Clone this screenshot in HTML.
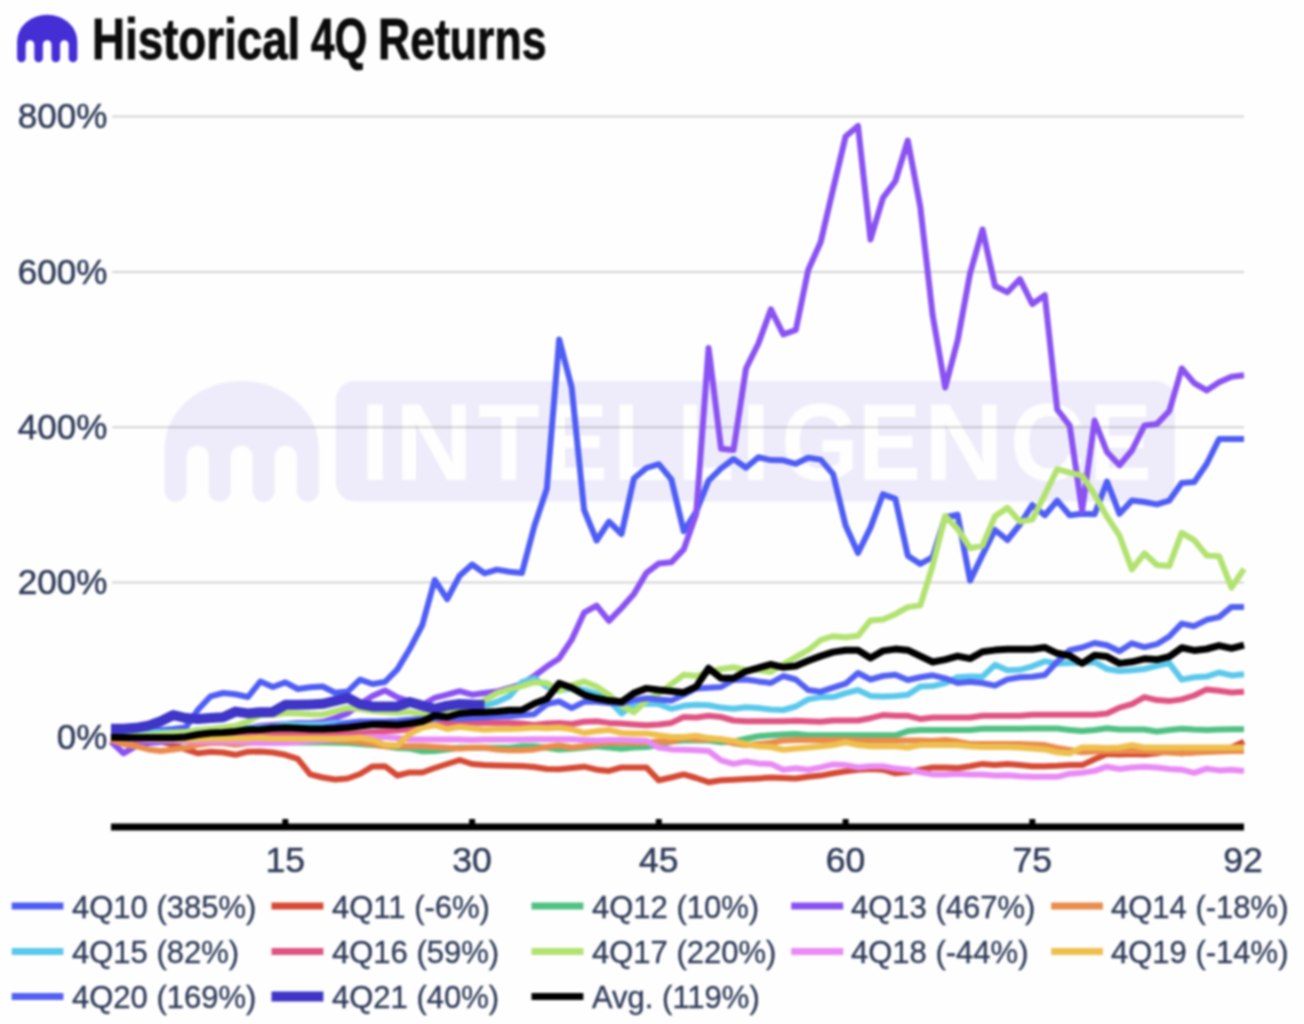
<!DOCTYPE html>
<html><head><meta charset="utf-8"><title>Historical 4Q Returns</title>
<style>
html,body{margin:0;padding:0;background:#fefefe;}
body{width:1304px;height:1024px;overflow:hidden;position:relative;font-family:"Liberation Sans",sans-serif;}
#w{position:absolute;left:0;top:0;width:1304px;height:1024px;filter:blur(1px);}
svg{position:absolute;left:0;top:0;}
.t{position:absolute;top:5px;font-weight:bold;font-size:58px;color:#0b0b0b;white-space:nowrap;transform-origin:0 0;-webkit-text-stroke:0.9px #0b0b0b;}
</style></head><body>

<div id="w">
<svg width="1304" height="1024" viewBox="0 0 1304 1024">
<path d="M17.10,57.90 L17.10,41.34 A30.10,26.54 0 0 1 77.30,41.34 L77.30,57.90 A4.30,4.30 0 0 1 68.70,57.90 L68.70,44.51 A4.30,4.30 0 0 0 60.10,44.51 L60.10,57.90 A4.30,4.30 0 0 1 51.50,57.90 L51.50,44.51 A4.30,4.30 0 0 0 42.90,44.51 L42.90,57.90 A4.30,4.30 0 0 1 34.30,57.90 L34.30,44.51 A4.30,4.30 0 0 0 25.70,44.51 L25.70,57.90 A4.30,4.30 0 0 1 17.10,57.90 Z" fill="#452ed6"/>
<path d="M164.60,490.79 L164.60,448.65 A77.10,67.65 0 0 1 318.80,448.65 L318.80,490.79 A11.01,11.01 0 0 1 296.77,490.79 L296.77,456.76 A11.01,11.01 0 0 0 274.74,456.76 L274.74,490.79 A11.01,11.01 0 0 1 252.71,490.79 L252.71,456.76 A11.01,11.01 0 0 0 230.69,456.76 L230.69,490.79 A11.01,11.01 0 0 1 208.66,490.79 L208.66,456.76 A11.01,11.01 0 0 0 186.63,456.76 L186.63,490.79 A11.01,11.01 0 0 1 164.60,490.79 Z" fill="#eeecfa"/>
<rect x="335.8" y="381" width="839" height="120.5" rx="19" ry="19" fill="#eeecfa"/>
<g font-family="Liberation Sans" font-weight="bold" font-size="110" fill="#fefefe">
<text transform="translate(360.60,480.4) scale(0.964,1)">I</text>
<text transform="translate(394.89,480.4) scale(0.979,1)">N</text>
<text transform="translate(478.05,480.4) scale(0.918,1)">T</text>
<text transform="translate(545.32,480.4) scale(0.851,1)">E</text>
<text transform="translate(613.41,480.4) scale(0.839,1)">L</text>
<text transform="translate(677.61,480.4) scale(0.839,1)">L</text>
<text transform="translate(741.00,480.4) scale(0.964,1)">I</text>
<text transform="translate(780.92,480.4) scale(0.910,1)">G</text>
<text transform="translate(858.32,480.4) scale(0.851,1)">E</text>
<text transform="translate(923.66,480.4) scale(1.010,1)">N</text>
<text transform="translate(1010.12,480.4) scale(0.936,1)">C</text>
<text transform="translate(1089.45,480.4) scale(0.846,1)">E</text>
</g>
<line x1="112" y1="116.6" x2="1244" y2="116.6" stroke="#000" stroke-opacity="0.17" stroke-width="2"/>
<line x1="112" y1="271.9" x2="1244" y2="271.9" stroke="#000" stroke-opacity="0.17" stroke-width="2"/>
<line x1="112" y1="427.2" x2="1244" y2="427.2" stroke="#000" stroke-opacity="0.17" stroke-width="2"/>
<line x1="112" y1="582.5" x2="1244" y2="582.5" stroke="#000" stroke-opacity="0.17" stroke-width="2"/>
<g fill="none" stroke-linejoin="round" stroke-linecap="butt">
<polyline points="111.0,737.0 123.5,735.0 135.9,733.0 148.4,731.0 160.8,730.0 173.3,729.0 185.7,727.6 198.2,709.5 210.6,696.3 223.1,693.0 235.5,694.3 248.0,697.0 260.4,681.5 272.9,687.0 285.3,682.4 297.8,689.0 310.2,687.2 322.7,686.5 335.1,692.7 347.6,691.6 360.0,679.7 372.5,684.0 384.9,682.0 397.4,669.4 409.8,648.8 422.3,625.0 434.7,580.0 447.2,599.2 459.6,575.7 472.1,564.5 484.5,573.3 497.0,569.6 509.4,571.7 521.9,573.0 534.3,526.3 546.8,488.8 559.2,339.6 571.7,387.6 584.1,510.0 596.6,540.5 609.0,521.6 621.5,534.0 633.9,478.5 646.4,468.0 658.8,464.2 671.3,479.3 683.7,531.3 696.2,511.6 708.6,480.6 721.1,468.4 733.5,459.0 746.0,467.8 758.4,457.3 770.9,460.1 783.3,460.3 795.8,463.8 808.2,457.8 820.7,459.6 833.1,474.1 845.6,525.5 858.0,553.0 870.5,527.6 882.9,494.2 895.4,498.9 907.8,555.7 920.3,564.0 932.7,557.0 945.2,517.2 957.6,514.8 970.1,580.6 982.5,554.9 995.0,530.0 1007.4,540.0 1019.9,524.5 1032.3,505.0 1044.8,515.2 1057.2,500.6 1069.7,515.2 1082.1,513.8 1094.6,514.3 1107.0,481.5 1119.5,513.8 1131.9,500.6 1144.4,502.0 1156.8,504.4 1169.3,500.6 1181.7,483.0 1194.2,482.1 1206.6,464.0 1219.1,439.0 1231.5,439.0 1244.0,439.0" stroke="#4e5df5" stroke-width="6"/>
<polyline points="111.0,738.0 123.5,739.0 135.9,740.0 148.4,741.0 160.8,741.6 173.3,744.7 185.7,749.4 198.2,753.3 210.6,751.7 223.1,752.5 235.5,754.8 248.0,751.7 260.4,751.5 272.9,752.5 285.3,754.8 297.8,758.8 310.2,774.4 322.7,777.5 335.1,779.5 347.6,778.5 360.0,774.0 372.5,766.4 384.9,766.2 397.4,775.5 409.8,772.4 422.3,772.5 434.7,768.0 447.2,764.0 459.6,760.0 472.1,764.0 484.5,765.0 497.0,765.5 509.4,765.8 521.9,766.0 534.3,767.0 546.8,769.0 559.2,769.3 571.7,768.1 584.1,766.7 596.6,769.7 609.0,770.9 621.5,767.4 633.9,767.4 646.4,767.4 658.8,780.3 671.3,777.5 683.7,774.4 696.2,778.0 708.6,782.2 721.1,780.3 733.5,779.8 746.0,779.1 758.4,778.4 770.9,777.5 783.3,778.0 795.8,778.5 808.2,776.8 820.7,775.6 833.1,773.3 845.6,771.4 858.0,769.7 870.5,769.0 882.9,769.7 895.4,773.3 907.8,772.1 920.3,769.7 932.7,767.4 945.2,767.4 957.6,768.0 970.1,766.2 982.5,763.9 995.0,765.1 1007.4,763.9 1019.9,765.1 1032.3,766.2 1044.8,766.2 1057.2,765.8 1069.7,765.1 1082.1,765.1 1094.6,759.2 1107.0,754.0 1119.5,754.5 1131.9,754.0 1144.4,754.5 1156.8,753.3 1169.3,751.0 1181.7,753.3 1194.2,752.2 1206.6,751.0 1219.1,749.8 1231.5,747.5 1244.0,741.6" stroke="#d64a35" stroke-width="6"/>
<polyline points="111.0,737.0 123.5,738.0 135.9,739.0 148.4,740.0 160.8,740.0 173.3,741.0 185.7,741.2 198.2,741.4 210.6,741.6 223.1,741.8 235.5,742.0 248.0,742.1 260.4,742.1 272.9,742.2 285.3,742.3 297.8,742.4 310.2,742.4 322.7,742.5 335.1,742.8 347.6,743.0 360.0,744.0 372.5,745.0 384.9,746.0 397.4,748.0 409.8,748.5 422.3,751.2 434.7,751.0 447.2,749.4 459.6,747.8 472.1,747.8 484.5,747.8 497.0,747.8 509.4,747.8 521.9,746.2 534.3,746.2 546.8,747.8 559.2,749.4 571.7,748.7 584.1,747.5 596.6,746.3 609.0,747.5 621.5,748.7 633.9,747.5 646.4,747.0 658.8,745.1 671.3,741.6 683.7,740.5 696.2,740.5 708.6,740.5 721.1,742.3 733.5,741.6 746.0,738.6 758.4,736.2 770.9,735.3 783.3,734.6 795.8,734.0 808.2,735.3 820.7,735.3 833.1,735.3 845.6,735.3 858.0,735.3 870.5,735.3 882.9,735.3 895.4,735.3 907.8,731.1 920.3,729.9 932.7,729.9 945.2,729.9 957.6,729.9 970.1,729.9 982.5,728.7 995.0,728.7 1007.4,728.7 1019.9,728.7 1032.3,728.5 1044.8,728.5 1057.2,728.5 1069.7,729.9 1082.1,731.1 1094.6,730.0 1107.0,728.3 1119.5,729.5 1131.9,729.5 1144.4,729.5 1156.8,731.5 1169.3,730.0 1181.7,728.7 1194.2,729.5 1206.6,729.9 1219.1,729.5 1231.5,729.2 1244.0,729.2" stroke="#50c083" stroke-width="6"/>
<polyline points="111.0,741.6 123.5,753.3 135.9,746.2 148.4,743.0 160.8,742.0 173.3,741.0 185.7,740.0 198.2,738.0 210.6,736.0 223.1,733.0 235.5,730.0 248.0,728.0 260.4,726.0 272.9,725.0 285.3,724.0 297.8,723.0 310.2,723.0 322.7,722.0 335.1,718.1 347.6,713.4 360.0,704.3 372.5,696.0 384.9,690.4 397.4,697.3 409.8,701.7 422.3,705.3 434.7,697.8 447.2,694.7 459.6,691.2 472.1,694.7 484.5,693.1 497.0,691.6 509.4,688.0 521.9,684.0 534.3,676.0 546.8,666.6 559.2,658.4 571.7,639.7 584.1,612.7 596.6,605.7 609.0,620.9 621.5,608.0 633.9,594.0 646.4,572.9 658.8,563.5 671.3,562.3 683.7,549.4 696.2,514.0 708.6,348.0 721.1,448.8 733.5,450.0 746.0,368.5 758.4,343.5 770.9,309.4 783.3,334.4 795.8,330.0 808.2,270.0 820.7,242.0 833.1,189.0 845.6,136.5 858.0,126.0 870.5,239.5 882.9,198.0 895.4,181.0 907.8,140.5 920.3,207.0 932.7,315.6 945.2,387.5 957.6,340.6 970.1,273.3 982.5,229.5 995.0,286.0 1007.4,292.3 1019.9,279.1 1032.3,304.0 1044.8,295.2 1057.2,409.5 1069.7,425.7 1082.1,510.8 1094.6,420.5 1107.0,452.0 1119.5,465.2 1131.9,450.5 1144.4,425.6 1156.8,424.1 1169.3,411.0 1181.7,368.5 1194.2,383.1 1206.6,390.4 1219.1,382.2 1231.5,376.7 1244.0,375.2" stroke="#8a52f2" stroke-width="6"/>
<polyline points="111.0,740.0 123.5,744.0 135.9,746.2 148.4,749.4 160.8,751.0 173.3,749.4 185.7,747.8 198.2,744.7 210.6,743.1 223.1,743.1 235.5,744.7 248.0,743.0 260.4,742.0 272.9,742.0 285.3,741.6 297.8,741.0 310.2,740.5 322.7,740.5 335.1,740.5 347.6,741.0 360.0,742.0 372.5,744.0 384.9,746.3 397.4,746.3 409.8,746.2 422.3,746.2 434.7,747.0 447.2,747.8 459.6,748.6 472.1,747.8 484.5,747.8 497.0,749.4 509.4,750.2 521.9,750.2 534.3,749.4 546.8,747.0 559.2,745.5 571.7,747.5 584.1,746.3 596.6,744.0 609.0,742.8 621.5,742.8 633.9,742.8 646.4,742.8 658.8,741.6 671.3,741.6 683.7,738.1 696.2,739.3 708.6,739.3 721.1,739.3 733.5,743.3 746.0,745.1 758.4,744.0 770.9,742.8 783.3,740.5 795.8,740.0 808.2,740.0 820.7,740.0 833.1,740.0 845.6,740.0 858.0,740.5 870.5,740.5 882.9,740.5 895.4,740.5 907.8,740.5 920.3,740.5 932.7,741.0 945.2,740.0 957.6,741.6 970.1,744.0 982.5,744.0 995.0,744.0 1007.4,744.0 1019.9,744.0 1032.3,744.5 1044.8,745.1 1057.2,748.0 1069.7,750.0 1082.1,752.2 1094.6,751.5 1107.0,751.0 1119.5,751.0 1131.9,751.0 1144.4,751.0 1156.8,752.0 1169.3,752.5 1181.7,753.3 1194.2,752.5 1206.6,752.0 1219.1,751.5 1231.5,751.0 1244.0,751.0" stroke="#ea8c4c" stroke-width="6"/>
<polyline points="111.0,737.0 123.5,736.0 135.9,734.0 148.4,732.2 160.8,732.2 173.3,732.2 185.7,732.2 198.2,730.0 210.6,729.5 223.1,729.0 235.5,728.5 248.0,728.0 260.4,727.5 272.9,727.0 285.3,724.4 297.8,724.4 310.2,724.4 322.7,724.4 335.1,723.0 347.6,722.8 360.0,722.6 372.5,722.5 384.9,722.3 397.4,722.1 409.8,721.9 422.3,721.7 434.7,721.5 447.2,721.4 459.6,721.2 472.1,721.0 484.5,705.6 497.0,702.0 509.4,696.2 521.9,682.2 534.3,678.3 546.8,686.9 559.2,690.6 571.7,688.4 584.1,690.0 596.6,693.6 609.0,700.6 621.5,713.5 633.9,704.1 646.4,703.4 658.8,704.1 671.3,708.8 683.7,705.8 696.2,704.8 708.6,705.3 721.1,707.6 733.5,708.8 746.0,707.2 758.4,708.1 770.9,709.5 783.3,710.0 795.8,706.5 808.2,699.4 820.7,697.1 833.1,697.1 845.6,693.1 858.0,690.0 870.5,695.9 882.9,696.4 895.4,695.9 907.8,694.8 920.3,686.6 932.7,686.1 945.2,683.0 957.6,677.2 970.1,676.6 982.5,676.7 995.0,664.8 1007.4,670.3 1019.9,669.8 1032.3,666.3 1044.8,661.4 1057.2,663.4 1069.7,663.0 1082.1,663.0 1094.6,662.2 1107.0,669.0 1119.5,671.0 1131.9,670.3 1144.4,669.0 1156.8,665.8 1169.3,663.1 1181.7,679.6 1194.2,677.2 1206.6,676.6 1219.1,672.5 1231.5,675.4 1244.0,674.3" stroke="#5ac8ec" stroke-width="6"/>
<polyline points="111.0,737.0 123.5,737.0 135.9,737.0 148.4,736.0 160.8,736.0 173.3,735.0 185.7,735.0 198.2,734.0 210.6,734.0 223.1,734.0 235.5,733.0 248.0,733.0 260.4,733.0 272.9,733.0 285.3,733.0 297.8,733.0 310.2,733.0 322.7,733.0 335.1,733.0 347.6,733.5 360.0,733.0 372.5,732.0 384.9,731.0 397.4,730.6 409.8,729.0 422.3,726.0 434.7,724.4 447.2,723.5 459.6,722.8 472.1,722.8 484.5,722.8 497.0,722.8 509.4,722.8 521.9,723.6 534.3,725.0 546.8,723.6 559.2,723.0 571.7,724.0 584.1,721.7 596.6,721.2 609.0,722.9 621.5,723.6 633.9,724.5 646.4,725.2 658.8,724.5 671.3,722.9 683.7,717.0 696.2,717.5 708.6,715.8 721.1,717.0 733.5,720.5 746.0,721.2 758.4,721.2 770.9,721.2 783.3,721.2 795.8,720.8 808.2,721.2 820.7,721.7 833.1,720.5 845.6,720.5 858.0,720.5 870.5,718.2 882.9,715.1 895.4,715.8 907.8,715.8 920.3,718.9 932.7,717.5 945.2,717.5 957.6,717.5 970.1,717.5 982.5,715.8 995.0,715.8 1007.4,715.8 1019.9,715.8 1032.3,714.7 1044.8,714.7 1057.2,714.7 1069.7,714.7 1082.1,714.7 1094.6,714.7 1107.0,713.5 1119.5,707.6 1131.9,704.1 1144.4,697.1 1156.8,700.1 1169.3,701.1 1181.7,699.4 1194.2,695.5 1206.6,689.4 1219.1,690.8 1231.5,692.4 1244.0,691.7" stroke="#e05483" stroke-width="6"/>
<polyline points="111.0,737.0 123.5,737.0 135.9,736.0 148.4,735.0 160.8,734.0 173.3,733.0 185.7,732.0 198.2,730.6 210.6,729.0 223.1,727.5 235.5,726.0 248.0,721.2 260.4,715.0 272.9,715.0 285.3,713.1 297.8,713.5 310.2,714.2 322.7,714.5 335.1,711.1 347.6,708.0 360.0,709.0 372.5,711.0 384.9,712.0 397.4,712.7 409.8,711.9 422.3,714.2 434.7,712.0 447.2,710.0 459.6,708.0 472.1,705.0 484.5,700.2 497.0,693.1 509.4,689.2 521.9,686.1 534.3,682.2 546.8,683.0 559.2,690.8 571.7,685.4 584.1,681.4 596.6,686.6 609.0,694.8 621.5,705.3 633.9,712.3 646.4,700.6 658.8,693.6 671.3,684.2 683.7,674.8 696.2,676.0 708.6,672.0 721.1,669.0 733.5,667.3 746.0,670.1 758.4,670.1 770.9,672.0 783.3,664.3 795.8,657.0 808.2,650.2 820.7,640.0 833.1,636.2 845.6,637.3 858.0,635.8 870.5,620.4 882.9,619.4 895.4,614.2 907.8,607.1 920.3,605.4 932.7,565.5 945.2,516.0 957.6,528.9 970.1,548.2 982.5,545.6 995.0,516.3 1007.4,507.8 1019.9,521.5 1032.3,519.6 1044.8,494.7 1057.2,469.2 1069.7,472.7 1082.1,475.7 1094.6,494.7 1107.0,516.7 1119.5,535.7 1131.9,569.4 1144.4,553.3 1156.8,565.0 1169.3,565.9 1181.7,532.8 1194.2,540.1 1206.6,555.4 1219.1,556.2 1231.5,587.6 1244.0,568.8" stroke="#b2e270" stroke-width="6"/>
<polyline points="111.0,737.0 123.5,738.0 135.9,739.0 148.4,740.0 160.8,740.0 173.3,740.0 185.7,741.0 198.2,741.5 210.6,741.6 223.1,741.6 235.5,742.0 248.0,742.5 260.4,743.0 272.9,743.0 285.3,743.0 297.8,742.0 310.2,741.0 322.7,740.0 335.1,739.0 347.6,738.0 360.0,737.5 372.5,737.0 384.9,737.0 397.4,738.0 409.8,739.5 422.3,739.5 434.7,739.5 447.2,739.5 459.6,739.5 472.1,740.0 484.5,739.5 497.0,739.5 509.4,739.5 521.9,739.5 534.3,739.2 546.8,739.2 559.2,739.3 571.7,739.3 584.1,740.0 596.6,740.5 609.0,740.0 621.5,740.0 633.9,740.5 646.4,740.9 658.8,747.5 671.3,749.4 683.7,749.8 696.2,750.3 708.6,751.0 721.1,760.4 733.5,763.9 746.0,761.5 758.4,763.4 770.9,763.9 783.3,769.7 795.8,768.3 808.2,769.7 820.7,767.4 833.1,764.4 845.6,765.1 858.0,767.4 870.5,766.2 882.9,766.2 895.4,768.6 907.8,769.7 920.3,772.1 932.7,774.4 945.2,774.4 957.6,773.7 970.1,774.4 982.5,774.4 995.0,775.6 1007.4,775.2 1019.9,776.2 1032.3,776.8 1044.8,776.8 1057.2,776.8 1069.7,773.7 1082.1,772.8 1094.6,770.9 1107.0,766.7 1119.5,769.0 1131.9,767.4 1144.4,766.7 1156.8,767.4 1169.3,769.0 1181.7,769.7 1194.2,772.8 1206.6,768.6 1219.1,770.4 1231.5,769.7 1244.0,770.9" stroke="#e98af5" stroke-width="6"/>
<polyline points="111.0,737.0 123.5,737.5 135.9,738.0 148.4,738.5 160.8,739.0 173.3,739.0 185.7,739.0 198.2,739.0 210.6,738.5 223.1,738.4 235.5,738.4 248.0,738.4 260.4,737.7 272.9,738.4 285.3,738.4 297.8,738.4 310.2,738.4 322.7,738.4 335.1,738.4 347.6,738.4 360.0,737.7 372.5,740.0 384.9,744.7 397.4,745.5 409.8,733.8 422.3,727.5 434.7,725.2 447.2,729.0 459.6,726.7 472.1,728.3 484.5,729.8 497.0,729.0 509.4,729.0 521.9,728.5 534.3,727.5 546.8,728.3 559.2,727.5 571.7,729.2 584.1,733.0 596.6,731.1 609.0,729.9 621.5,733.0 633.9,733.4 646.4,733.4 658.8,735.3 671.3,736.9 683.7,736.9 696.2,735.8 708.6,738.1 721.1,739.3 733.5,740.9 746.0,744.0 758.4,746.3 770.9,747.0 783.3,749.8 795.8,748.5 808.2,747.5 820.7,746.3 833.1,745.1 845.6,742.3 858.0,745.1 870.5,746.3 882.9,746.3 895.4,746.3 907.8,747.5 920.3,745.1 932.7,745.1 945.2,745.1 957.6,745.1 970.1,746.3 982.5,747.0 995.0,747.0 1007.4,747.0 1019.9,747.5 1032.3,748.5 1044.8,749.4 1057.2,752.2 1069.7,753.3 1082.1,747.5 1094.6,747.5 1107.0,748.0 1119.5,747.5 1131.9,745.1 1144.4,747.5 1156.8,747.5 1169.3,747.5 1181.7,747.5 1194.2,747.5 1206.6,747.5 1219.1,747.5 1231.5,747.5 1244.0,747.5" stroke="#eebf4c" stroke-width="6"/>
<polyline points="111.0,737.5 123.5,737.5 135.9,737.5 148.4,737.5 160.8,737.5 173.3,737.5 185.7,736.5 198.2,734.5 210.6,733.0 223.1,732.5 235.5,731.4 248.0,730.0 260.4,729.5 272.9,728.5 285.3,728.0 297.8,728.3 310.2,728.5 322.7,728.0 335.1,726.0 347.6,723.0 360.0,721.6 372.5,721.6 384.9,721.6 397.4,721.0 409.8,719.7 422.3,718.9 434.7,718.1 447.2,718.0 459.6,718.5 472.1,718.0 484.5,717.3 497.0,716.6 509.4,716.2 521.9,715.0 534.3,714.2 546.8,704.1 559.2,701.5 571.7,708.1 584.1,701.8 596.6,701.8 609.0,703.0 621.5,703.4 633.9,700.1 646.4,698.3 658.8,699.4 671.3,700.6 683.7,694.8 696.2,688.4 708.6,687.7 721.1,687.0 733.5,680.0 746.0,679.5 758.4,681.4 770.9,683.0 783.3,676.0 795.8,679.5 808.2,690.0 820.7,691.7 833.1,687.7 845.6,683.7 858.0,673.0 870.5,679.5 882.9,676.0 895.4,674.8 907.8,680.0 920.3,677.2 932.7,675.3 945.2,678.3 957.6,683.0 970.1,681.8 982.5,683.0 995.0,685.6 1007.4,679.4 1019.9,677.3 1032.3,676.8 1044.8,675.0 1057.2,661.7 1069.7,650.1 1082.1,647.5 1094.6,643.0 1107.0,645.2 1119.5,651.2 1131.9,643.3 1144.4,647.1 1156.8,644.2 1169.3,636.5 1181.7,623.6 1194.2,626.2 1206.6,619.8 1219.1,617.1 1231.5,606.9 1244.0,606.9" stroke="#5360f4" stroke-width="6"/>
<polyline points="111.0,728.8 123.5,728.8 135.9,727.8 148.4,725.6 160.8,721.2 173.3,715.0 185.7,718.1 198.2,718.9 210.6,718.1 223.1,717.3 235.5,711.6 248.0,713.4 260.4,712.2 272.9,711.9 285.3,704.8 297.8,704.8 310.2,704.4 322.7,703.8 335.1,700.9 347.6,697.8 360.0,704.1 372.5,706.4 384.9,706.4 397.4,706.4 409.8,702.0 422.3,705.6 434.7,708.8 447.2,705.6 459.6,704.0 472.1,704.5 484.5,705.2" stroke="#3f36c8" stroke-width="10"/>
<polyline points="111.0,737.2 123.5,737.5 135.9,737.7 148.4,737.7 160.8,737.7 173.3,737.7 185.7,736.9 198.2,734.5 210.6,733.0 223.1,732.5 235.5,731.4 248.0,729.8 260.4,729.5 272.9,728.3 285.3,727.8 297.8,728.3 310.2,729.0 322.7,729.0 335.1,728.5 347.6,727.5 360.0,726.0 372.5,724.6 384.9,724.5 397.4,725.0 409.8,723.5 422.3,721.5 434.7,715.5 447.2,717.0 459.6,713.5 472.1,712.5 484.5,712.2 497.0,711.5 509.4,710.2 521.9,710.0 534.3,703.6 546.8,698.8 559.2,683.2 571.7,687.7 584.1,694.8 596.6,698.3 609.0,700.6 621.5,701.8 633.9,693.1 646.4,688.4 658.8,690.0 671.3,691.2 683.7,692.4 696.2,686.6 708.6,668.3 721.1,678.3 733.5,678.3 746.0,671.3 758.4,667.8 770.9,664.3 783.3,667.3 795.8,666.0 808.2,660.8 820.7,656.1 833.1,652.1 845.6,650.2 858.0,650.2 870.5,658.0 882.9,650.9 895.4,649.1 907.8,650.2 920.3,656.1 932.7,662.0 945.2,659.6 957.6,656.1 970.1,658.6 982.5,651.7 995.0,650.1 1007.4,649.3 1019.9,649.3 1032.3,649.3 1044.8,647.5 1057.2,653.3 1069.7,655.7 1082.1,663.4 1094.6,655.2 1107.0,656.6 1119.5,663.4 1131.9,661.8 1144.4,658.8 1156.8,659.6 1169.3,656.6 1181.7,647.8 1194.2,650.4 1206.6,649.0 1219.1,645.6 1231.5,648.3 1244.0,645.2" stroke="#000000" stroke-width="7"/>
</g>
<rect x="111" y="823.5" width="1133" height="7" fill="#000"/>
<rect x="282.3" y="819" width="6" height="5" fill="#000"/>
<rect x="469.1" y="819" width="6" height="5" fill="#000"/>
<rect x="655.8" y="819" width="6" height="5" fill="#000"/>
<rect x="842.6" y="819" width="6" height="5" fill="#000"/>
<rect x="1029.3" y="819" width="6" height="5" fill="#000"/>
<text x="107.3" y="128.2" text-anchor="end" font-family="Liberation Sans" font-size="35" fill="#2f3b58" stroke="#2f3b58" stroke-width="0.5">800%</text>
<text x="107.3" y="283.5" text-anchor="end" font-family="Liberation Sans" font-size="35" fill="#2f3b58" stroke="#2f3b58" stroke-width="0.5">600%</text>
<text x="107.3" y="438.8" text-anchor="end" font-family="Liberation Sans" font-size="35" fill="#2f3b58" stroke="#2f3b58" stroke-width="0.5">400%</text>
<text x="107.3" y="594.1" text-anchor="end" font-family="Liberation Sans" font-size="35" fill="#2f3b58" stroke="#2f3b58" stroke-width="0.5">200%</text>
<text x="107.3" y="749.4" text-anchor="end" font-family="Liberation Sans" font-size="35" fill="#2f3b58" stroke="#2f3b58" stroke-width="0.5">0%</text>
<text x="285.3" y="872" text-anchor="middle" font-family="Liberation Sans" font-size="35.5" fill="#2f3b58" stroke="#2f3b58" stroke-width="0.5">15</text>
<text x="472.1" y="872" text-anchor="middle" font-family="Liberation Sans" font-size="35.5" fill="#2f3b58" stroke="#2f3b58" stroke-width="0.5">30</text>
<text x="658.8" y="872" text-anchor="middle" font-family="Liberation Sans" font-size="35.5" fill="#2f3b58" stroke="#2f3b58" stroke-width="0.5">45</text>
<text x="845.6" y="872" text-anchor="middle" font-family="Liberation Sans" font-size="35.5" fill="#2f3b58" stroke="#2f3b58" stroke-width="0.5">60</text>
<text x="1032.3" y="872" text-anchor="middle" font-family="Liberation Sans" font-size="35.5" fill="#2f3b58" stroke="#2f3b58" stroke-width="0.5">75</text>
<text x="1243.0" y="872" text-anchor="middle" font-family="Liberation Sans" font-size="35.5" fill="#2f3b58" stroke="#2f3b58" stroke-width="0.5">92</text>
<line x1="11.7" y1="906" x2="63.4" y2="906" stroke="#4e5df5" stroke-width="7"/>
<text x="72" y="918.2" font-family="Liberation Sans" font-size="31" fill="#2f3b58" stroke="#2f3b58" stroke-width="0.35">4Q10 (385%)</text>
<line x1="271.5" y1="906" x2="323.4" y2="906" stroke="#d64a35" stroke-width="7"/>
<text x="332" y="918.2" font-family="Liberation Sans" font-size="31" fill="#2f3b58" stroke="#2f3b58" stroke-width="0.35">4Q11 (-6%)</text>
<line x1="531.5" y1="906" x2="583.4" y2="906" stroke="#50c083" stroke-width="7"/>
<text x="592" y="918.2" font-family="Liberation Sans" font-size="31" fill="#2f3b58" stroke="#2f3b58" stroke-width="0.35">4Q12 (10%)</text>
<line x1="791.2" y1="906" x2="843.2" y2="906" stroke="#8a52f2" stroke-width="7"/>
<text x="851" y="918.2" font-family="Liberation Sans" font-size="31" fill="#2f3b58" stroke="#2f3b58" stroke-width="0.35">4Q13 (467%)</text>
<line x1="1051.2" y1="906" x2="1102.9" y2="906" stroke="#ea8c4c" stroke-width="7"/>
<text x="1111" y="918.2" font-family="Liberation Sans" font-size="31" fill="#2f3b58" stroke="#2f3b58" stroke-width="0.35">4Q14 (-18%)</text>
<line x1="11.7" y1="951.4" x2="63.4" y2="951.4" stroke="#5ac8ec" stroke-width="7"/>
<text x="72" y="963" font-family="Liberation Sans" font-size="31" fill="#2f3b58" stroke="#2f3b58" stroke-width="0.35">4Q15 (82%)</text>
<line x1="271.5" y1="951.4" x2="323.4" y2="951.4" stroke="#e05483" stroke-width="7"/>
<text x="332" y="963" font-family="Liberation Sans" font-size="31" fill="#2f3b58" stroke="#2f3b58" stroke-width="0.35">4Q16 (59%)</text>
<line x1="531.5" y1="951.4" x2="583.4" y2="951.4" stroke="#b2e270" stroke-width="7"/>
<text x="592" y="963" font-family="Liberation Sans" font-size="31" fill="#2f3b58" stroke="#2f3b58" stroke-width="0.35">4Q17 (220%)</text>
<line x1="791.2" y1="951.4" x2="843.2" y2="951.4" stroke="#e98af5" stroke-width="7"/>
<text x="851" y="963" font-family="Liberation Sans" font-size="31" fill="#2f3b58" stroke="#2f3b58" stroke-width="0.35">4Q18 (-44%)</text>
<line x1="1051.2" y1="951.4" x2="1102.9" y2="951.4" stroke="#eebf4c" stroke-width="7"/>
<text x="1111" y="963" font-family="Liberation Sans" font-size="31" fill="#2f3b58" stroke="#2f3b58" stroke-width="0.35">4Q19 (-14%)</text>
<line x1="11.7" y1="996.4" x2="63.4" y2="996.4" stroke="#5360f4" stroke-width="7"/>
<text x="72" y="1007.8" font-family="Liberation Sans" font-size="31" fill="#2f3b58" stroke="#2f3b58" stroke-width="0.35">4Q20 (169%)</text>
<line x1="271.5" y1="996.4" x2="323.4" y2="996.4" stroke="#3f36c8" stroke-width="10"/>
<text x="332" y="1007.8" font-family="Liberation Sans" font-size="31" fill="#2f3b58" stroke="#2f3b58" stroke-width="0.35">4Q21 (40%)</text>
<line x1="531.5" y1="996.4" x2="583.4" y2="996.4" stroke="#000000" stroke-width="7"/>
<text x="592" y="1007.8" font-family="Liberation Sans" font-size="31" fill="#2f3b58" stroke="#2f3b58" stroke-width="0.35">Avg. (119%)</text>
</svg>
<div class="t" style="left:91.5px;transform:scaleX(0.788)">Historical</div>
<div class="t" style="left:311.3px;transform:scaleX(0.726)">4Q</div>
<div class="t" style="left:378.2px;transform:scaleX(0.769)">Returns</div>
</div>
</body></html>
